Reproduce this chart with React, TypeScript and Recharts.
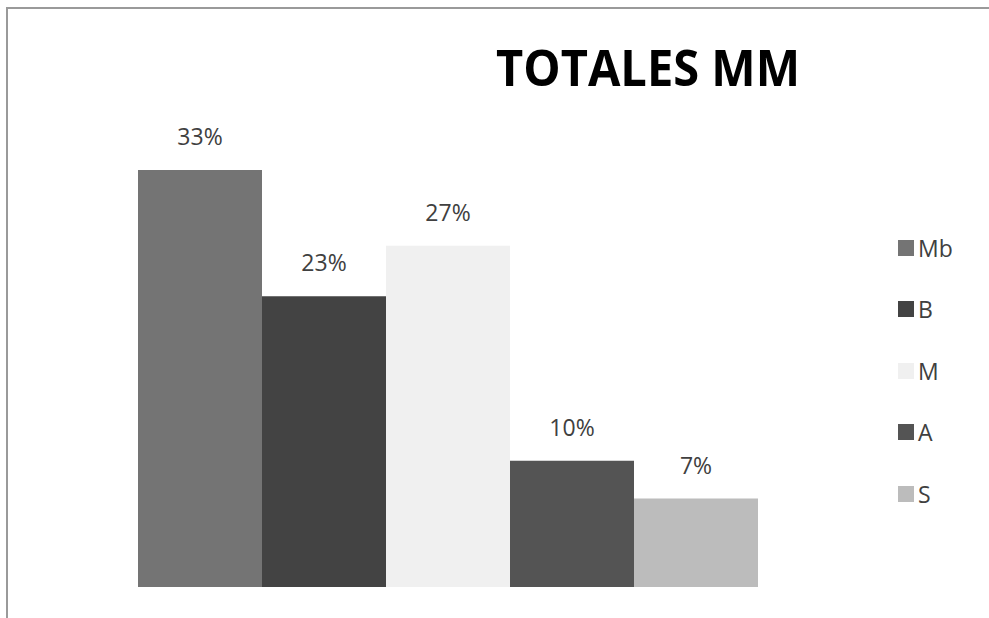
import { Bar, BarChart, LabelList, XAxis, YAxis } from "recharts";

const categories = ["TOTALES MM"];
const seriesNames = ["Mb", "B", "M", "A", "S"];
const seriesValues = [33, 23, 27, 10, 7];
const seriesColors = ["#747474", "#434343", "#f0f0f0", "#545454", "#bcbcbc"];

const data = categories.map((name) => {
    const row: Record<string, string | number> = { name };
    seriesNames.forEach((s, i) => {
        row[s] = seriesValues[i];
    });
    return row;
});

const font = "Open Sans, Lato, sans-serif";

function SideLegend() {
    return (
        <div style={{ display: "flex", flexDirection: "column" }}>
            {seriesNames.map((s, i) => (
                <div
                    key={s}
                    style={{ display: "flex", alignItems: "center", height: 61.5, fontFamily: font, fontSize: 23, color: "#404040" }}
                >
                    <span style={{ width: 16, height: 16, background: seriesColors[i], marginRight: 4, display: "inline-block" }} />
                    {s}
                </div>
            ))}
        </div>
    );
}

export default function App() {
    return (
        <div style={{ position: "absolute", left: 0, top: 0, width: 989, height: 618, background: "#fff", overflow: "hidden" }}>
            <div style={{ position: "absolute", left: 6, top: 7, width: 1000, height: 640, border: "2px solid #9a9a9a" }} />
            <svg width={989} height={618} style={{ position: "absolute", left: 0, top: 0 }}>
                <text
                    x={648}
                    y={86}
                    textAnchor="middle"
                    fontFamily={font}
                    fontWeight={700}
                    fontSize={50}
                    textLength={304}
                    lengthAdjust="spacingAndGlyphs"
                    fill="#000"
                >
                    TOTALES MM
                </text>
            </svg>
            <div style={{ position: "absolute", left: 0, top: 0 }}>
                <BarChart
                    width={989}
                    height={618}
                    data={data}
                    margin={{ top: 170, right: 233, bottom: 31, left: 138 }}
                    barCategoryGap={0}
                    barGap={0}
                >
                    <XAxis dataKey="name" hide />
                    <YAxis hide domain={[0, 33]} />
                    {seriesNames.map((s, i) => (
                        <Bar key={s} dataKey={s} fill={seriesColors[i]} isAnimationActive={false}>
                            <LabelList
                                dataKey={s}
                                position="top"
                                offset={25}
                                formatter={(v: any) => `${v}%`}
                                style={{ fontFamily: font, fontSize: 23, fill: "#404040" }}
                            />
                        </Bar>
                    ))}
                </BarChart>
            </div>
            <div style={{ position: "absolute", left: 898, top: 217, width: 90 }}>
                <SideLegend />
            </div>
        </div>
    );
}
